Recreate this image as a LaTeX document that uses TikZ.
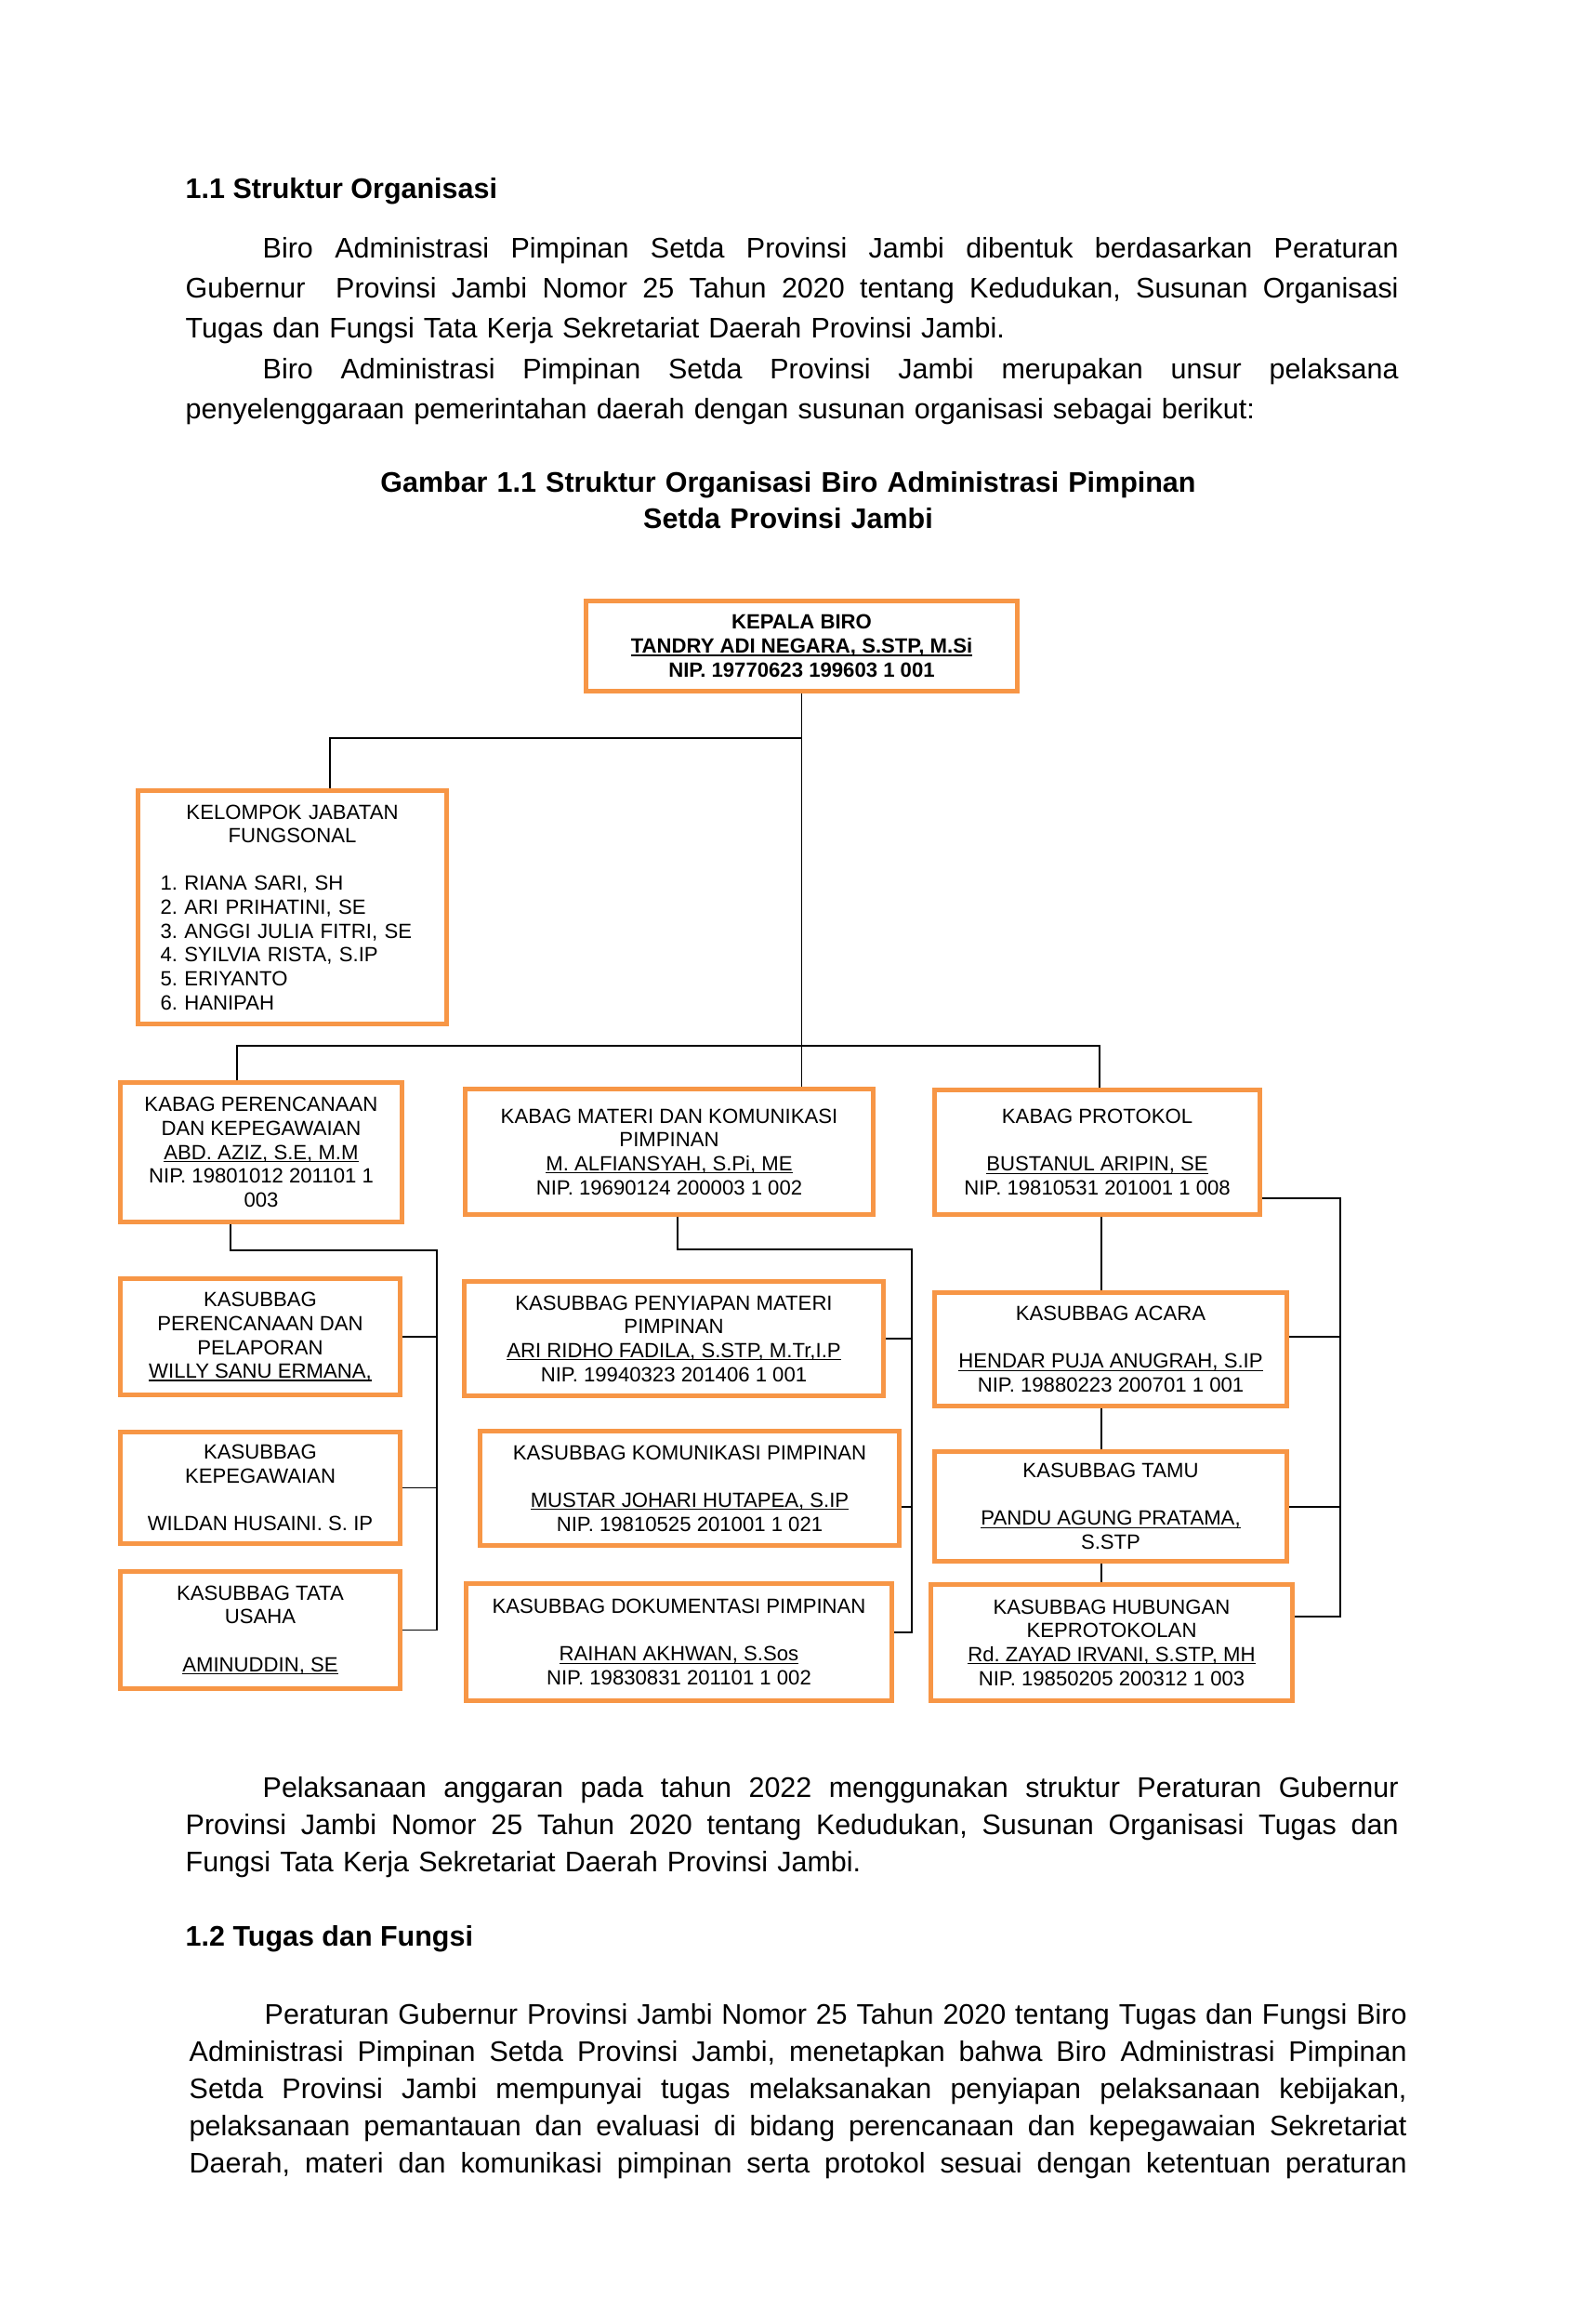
\documentclass[tikz,border=0pt]{standalone}
\usepackage{fontspec}
\setmainfont{Liberation Sans}
\usetikzlibrary{calc}

\definecolor{boxorange}{HTML}{F79646}
\frenchspacing
\newcommand{\orgfont}{\fontsize{6.3pt}{7.3pt}\selectfont}
\newcommand{\txtfont}{\fontsize{8.67pt}{12.33pt}\selectfont}
\newcommand{\txtfontb}{\fontsize{8.67pt}{11.38pt}\selectfont}
\newcommand{\jline}[2]{\makebox[#1][s]{\spaceskip=\fontdimen2\font plus 1fil\relax#2}}
\newsavebox{\unamebox}
\newcommand{\uname}[1]{\sbox{\unamebox}{#1}\rlap{\rule[-0.85pt]{\wd\unamebox}{0.4pt}}\usebox{\unamebox}}

\begin{document}
\begin{tikzpicture}[
    orgbox/.style={draw=boxorange, line width=0.47mm, align=center, inner sep=0pt, font=\orgfont},
    orgline/.style={line width=0.5pt},
    bodytext/.style={anchor=base west, inner sep=0pt, align=left, font=\txtfont},
    headtext/.style={anchor=base west, inner sep=0pt, font=\txtfont\bfseries}
]
\useasboundingbox (0,0) rectangle (17,-25);

% page text above the chart
\node[headtext] (head1) at (1.99,-2.13) {1.1 Struktur Organisasi};
\node[bodytext, text width=130.5mm] (intro) at (1.99,-2.77) {%
\hspace*{8.3mm}\jline{122.2mm}{Biro Administrasi Pimpinan Setda Provinsi Jambi dibentuk berdasarkan Peraturan}\\
\jline{130.5mm}{Gubernur\ \ Provinsi Jambi Nomor 25 Tahun 2020 tentang Kedudukan, Susunan Organisasi}\\
Tugas dan Fungsi Tata Kerja Sekretariat Daerah Provinsi Jambi.\\
\hspace*{8.3mm}\jline{122.2mm}{Biro Administrasi Pimpinan Setda Provinsi Jambi merupakan unsur pelaksana}\\
penyelenggaraan pemerintahan daerah dengan susunan organisasi sebagai berikut:};
\node[anchor=base, inner sep=0pt, align=center, text width=140mm, font=\txtfontb\bfseries] (caption) at (8.48,-5.29)
    {Gambar 1.1 Struktur Organisasi Biro Administrasi Pimpinan\\Setda Provinsi Jambi};

% boxes
\node[orgbox, font=\orgfont\bfseries, minimum width=46.4mm, minimum height=9.7mm] (kepala) at (8.625,-6.95)
    {KEPALA BIRO\\\uname{TANDRY ADI NEGARA, S.STP, M.Si}\\NIP. 19770623 199603 1 001};
\node[orgbox, align=left, text width=28.4mm, minimum width=33.2mm, minimum height=25.1mm] (kelompok) at (3.145,-9.76)
    {\makebox[28.4mm]{KELOMPOK JABATAN}\\\makebox[28.4mm]{FUNGSONAL}\\[7.3pt]
     1. RIANA SARI, SH\\2. ARI PRIHATINI, SE\\3. ANGGI JULIA FITRI, SE\\4. SYILVIA RISTA, S.IP\\5. ERIYANTO\\6. HANIPAH};
\node[orgbox, minimum width=30.3mm, minimum height=15.0mm] (perenc) at (2.81,-12.395)
    {KABAG PERENCANAAN\\DAN KEPEGAWAIAN\\\uname{ABD. AZIZ, S.E, M.M}\\NIP. 19801012 201101 1\\003};
\node[orgbox, minimum width=43.9mm, minimum height=13.5mm] (materi) at (7.20,-12.39)
    {KABAG MATERI DAN KOMUNIKASI\\PIMPINAN\\\uname{M. ALFIANSYAH, S.Pi, ME}\\NIP. 19690124 200003 1 002};
\node[orgbox, minimum width=35.0mm, minimum height=13.4mm] (protokol) at (11.805,-12.395)
    {KABAG PROTOKOL\\[7.3pt]\uname{BUSTANUL ARIPIN, SE}\\NIP. 19810531 201001 1 008};
\node[orgbox, minimum width=30.1mm, minimum height=12.5mm] (renlap) at (2.80,-14.38)
    {KASUBBAG\\PERENCANAAN DAN\\PELAPORAN\\\uname{WILLY SANU ERMANA,}};
\node[orgbox, minimum width=30.1mm, minimum height=12.0mm] (kepeg) at (2.80,-16.005)
    {KASUBBAG\\KEPEGAWAIAN\\[7.3pt]WILDAN HUSAINI. S. IP};
\node[orgbox, minimum width=30.1mm, minimum height=12.6mm] (tatausaha) at (2.80,-17.535)
    {KASUBBAG TATA\\USAHA\\[7.3pt]\uname{AMINUDDIN, SE}};
\node[orgbox, minimum width=45.1mm, minimum height=12.3mm] (penyiapan) at (7.25,-14.40)
    {KASUBBAG PENYIAPAN MATERI\\PIMPINAN\\\uname{ARI RIDHO FADILA, S.STP, M.Tr,I.P}\\NIP. 19940323 201406 1 001};
\node[orgbox, minimum width=45.1mm, minimum height=12.3mm] (komunikasi) at (7.42,-16.01)
    {KASUBBAG KOMUNIKASI PIMPINAN\\[7.3pt]\uname{MUSTAR JOHARI HUTAPEA, S.IP}\\NIP. 19810525 201001 1 021};
\node[orgbox, minimum width=45.8mm, minimum height=12.6mm] (dokumentasi) at (7.305,-17.665)
    {KASUBBAG DOKUMENTASI PIMPINAN\\[7.3pt]\uname{RAIHAN AKHWAN, S.Sos}\\NIP. 19830831 201101 1 002};
\node[orgbox, minimum width=37.9mm, minimum height=12.2mm] (acara) at (11.95,-14.515)
    {KASUBBAG ACARA\\[7.3pt]\uname{HENDAR PUJA ANUGRAH, S.IP}\\NIP. 19880223 200701 1 001};
\node[orgbox, minimum width=37.9mm, minimum height=11.8mm] (tamu) at (11.95,-16.205)
    {KASUBBAG TAMU\\[7.3pt]\uname{PANDU AGUNG PRATAMA,}\\S.STP};
\node[orgbox, minimum width=38.9mm, minimum height=12.5mm] (hubungan) at (11.96,-17.67)
    {KASUBBAG HUBUNGAN\\KEPROTOKOLAN\\\uname{Rd. ZAYAD IRVANI, S.STP, MH}\\NIP. 19850205 200312 1 003};

% connectors
\coordinate (kfbend) at (3.55,-7.94);
\draw[orgline] (kepala.south) |- (kfbend) -- (kfbend |- kelompok.north);
\draw[orgline] (kepala.south) -- (kepala.south |- materi.north);
\coordinate (busL) at (2.55,-11.25);
\coordinate (busR) at (11.83,-11.25);
\draw[orgline] (busL |- perenc.north) -- (busL) -- (busR) -- (busR |- protokol.north);

\coordinate (ldrop) at (2.48,-13.45);
\coordinate (lbus) at (4.70,-13.45);
\draw[orgline] (ldrop |- perenc.south) -- (ldrop) -- (lbus) -- (lbus |- tatausaha.east) -- (tatausaha.east);
\draw[orgline] (renlap.east) -- (renlap.east -| lbus);
\draw[orgline] (kepeg.east) -- (kepeg.east -| lbus);

\coordinate (mdrop) at (7.29,-13.44);
\coordinate (mbus) at (9.81,-13.44);
\coordinate (mb2) at (9.81,-16.21);
\coordinate (mb3) at (9.81,-17.56);
\draw[orgline] (mdrop |- materi.south) -- (mdrop) -- (mbus) -- (mb3) -- (mb3 -| dokumentasi.east);
\draw[orgline] (penyiapan.east) -- (penyiapan.east -| mbus);
\draw[orgline] (mb2 -| komunikasi.east) -- (mb2);

\coordinate (rchain) at (11.85,0);
\draw[orgline] (rchain |- protokol.south) -- (rchain |- acara.north);
\draw[orgline] (rchain |- acara.south) -- (rchain |- tamu.north);
\draw[orgline] (rchain |- tamu.south) -- (rchain |- hubungan.north);

\coordinate (rb0) at (14.42,-12.89);
\coordinate (rb1) at (14.42,-14.38);
\coordinate (rb2) at (14.42,-16.21);
\coordinate (rb3) at (14.42,-17.39);
\draw[orgline] (rb0 -| protokol.east) -- (rb0) -- (rb3) -- (rb3 -| hubungan.east);
\draw[orgline] (rb1 -| acara.east) -- (rb1);
\draw[orgline] (rb2 -| tamu.east) -- (rb2);

% page text below the chart
\node[bodytext, font=\txtfontb, text width=130.5mm] (budget) at (1.99,-19.33) {%
\hspace*{8.3mm}\jline{122.2mm}{Pelaksanaan anggaran pada tahun 2022 menggunakan struktur Peraturan Gubernur}\\
\jline{130.5mm}{Provinsi Jambi Nomor 25 Tahun 2020 tentang Kedudukan, Susunan Organisasi Tugas dan}\\
Fungsi Tata Kerja Sekretariat Daerah Provinsi Jambi.};
\node[headtext] (head2) at (1.99,-20.93) {1.2 Tugas dan Fungsi};
\node[bodytext, font=\txtfontb, text width=131mm] (tasks) at (2.03,-21.77) {%
\hspace*{8.1mm}\jline{122.9mm}{Peraturan Gubernur Provinsi Jambi Nomor 25 Tahun 2020 tentang Tugas dan Fungsi Biro}\\
\jline{131mm}{Administrasi Pimpinan Setda Provinsi Jambi, menetapkan bahwa Biro Administrasi Pimpinan}\\
\jline{131mm}{Setda Provinsi Jambi mempunyai tugas melaksanakan penyiapan pelaksanaan kebijakan,}\\
\jline{131mm}{pelaksanaan pemantauan dan evaluasi di bidang perencanaan dan kepegawaian Sekretariat}\\
\jline{131mm}{Daerah, materi dan komunikasi pimpinan serta protokol sesuai dengan ketentuan peraturan}};
\end{tikzpicture}
\end{document}
